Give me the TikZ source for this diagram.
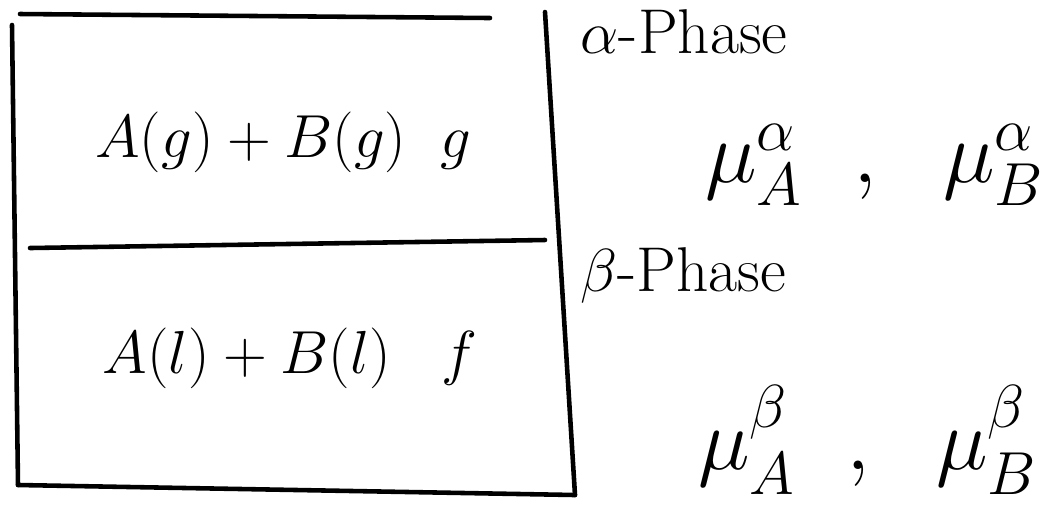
\documentclass[tikz,border=0pt]{standalone}
\usepackage{amsmath}
\usetikzlibrary{positioning}
\tikzset{
  stroke/.style={line width=1.3pt, line cap=round},
  bigtext/.style={inner sep=0pt, font=\fontsize{19}{23}\selectfont},
  mutext/.style={inner sep=0pt, font=\fontsize{24}{28}\selectfont},
  phasetext/.style={inner sep=0pt, font=\fontsize{18}{21}\selectfont},
}
\begin{document}
\begin{tikzpicture}[x=0.01cm, y=-0.01cm]
\useasboundingbox (0,0) rectangle (1054,526);
% Gefaess
\coordinate (tl) at (20,14);
\coordinate (tr) at (490,18);
\coordinate (lt) at (12,25);
\coordinate (lb) at (18,485);
\coordinate (rt) at (545,12);
\coordinate (rb) at (575,495);
\coordinate (ml) at (30,248);
\coordinate (mr) at (545,240);
\draw[stroke] (tl) -- (tr);
\draw[stroke] (lt) -- (lb);
\draw[stroke] (lb) -- (rb);
\draw[stroke] (rt) -- (rb);
\draw[stroke] (ml) -- (mr);

% Inhalt
\node[bigtext] (gas) at (283,142) {$A(g) + B(g)\;\; g$};
\node[bigtext] (liq) at (290,358) {$A(l) + B(l)\;\;\; f$};

% Phasen
\node[phasetext, anchor=west] (alpha) at (580,32) {$\alpha$-Phase};
\node[phasetext, anchor=west] (beta) at (580,275) {$\beta$-Phase};
\node[mutext] (mualpha) at (875,165) {$\mu_A^{\alpha}\ \ ,\ \ \mu_B^{\alpha}$};
\node[mutext] (mubeta) at (868,440) {$\mu_A^{\beta}\ \ ,\ \ \mu_B^{\beta}$};
\end{tikzpicture}
\end{document}
